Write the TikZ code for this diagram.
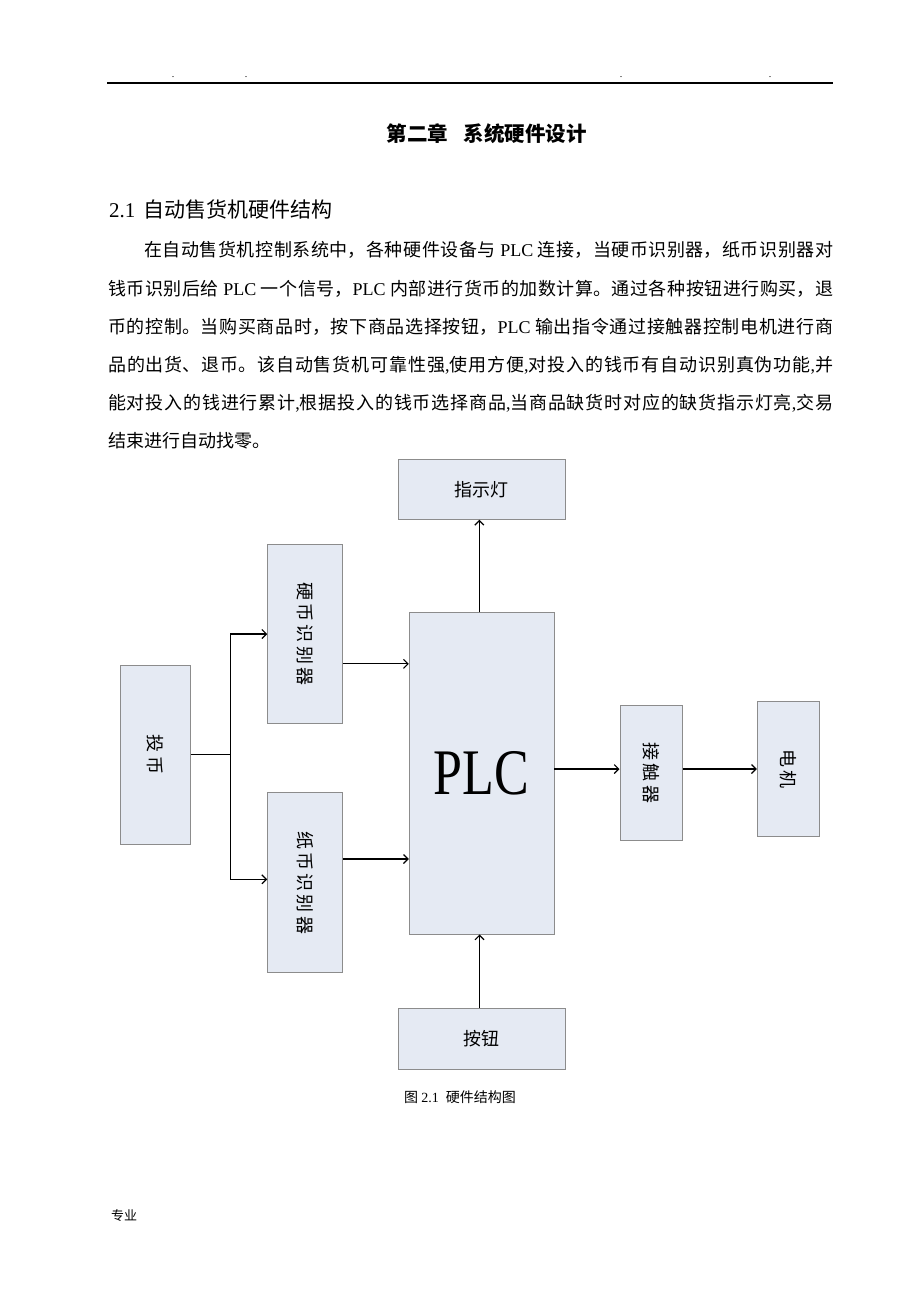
\documentclass[tikz,border=0pt]{standalone}
\usepackage{fontspec}
\usepackage{graphicx}
\setmainfont{Liberation Serif}
\newfontfamily\cjk{Noto Sans CJK SC}
\usetikzlibrary{arrows.meta}
\XeTeXlinebreaklocale "zh"
\XeTeXlinebreakskip=0pt plus 2pt
\definecolor{boxfill}{RGB}{229,234,243}
\definecolor{boxline}{RGB}{140,140,140}
\newcommand\vlabel[1]{\rotatebox{-90}{#1}}
\newcommand\vk{\kern3.2pt}
\begin{document}
\begin{tikzpicture}[x=1pt,y=-1pt,
  box/.style={draw=boxline, line width=0.9pt, fill=boxfill, inner sep=0pt,
    font=\cjk\fontsize{18}{18}\selectfont},
  conn/.style={line width=1.2pt, -{Straight Barb[length=4.5pt,width=9pt,line width=1.2pt]}},
  wire/.style={line width=1.2pt},
  bodyline/.style={anchor=base west, inner sep=0pt, text width=725pt, align=justify,
    font=\cjk\fontsize{18}{18}\selectfont},
  dotmark/.style={inner sep=0pt, font=\fontsize{10}{10}\selectfont}]
\useasboundingbox (0,0) rectangle (920,1302);
\fill[white] (0,0) rectangle (920,1302);

% header
\draw[line width=1.6pt] (107,83) -- (833,83);
\node[dotmark] (d1) at (173,77) {.};
\node[dotmark] (d2) at (246,77) {.};
\node[dotmark] (d3) at (621,77) {.};
\node[dotmark] (d4) at (770,77) {.};

% title
\node[inner sep=0pt, font=\cjk\bfseries\fontsize{20.5}{20.5}\selectfont] (title) at (486.7,134) {第二章\hspace{0.75em}系统硬件设计};

% heading
\node[anchor=base west, inner sep=0pt, font=\fontsize{21}{21}\selectfont] (head) at (109,217.8) {2.1\hspace{0.4em}{\cjk 自动售货机硬件结构}};

% body
\node[bodyline] (l1) at (108,256.8) {\tolerance=10000\parfillskip=0pt\hspace*{2em}在自动售货机控制系统中，各种硬件设备与 {\rmfamily PLC} 连接，当硬币识别器，纸币识别器对\par};
\node[bodyline] (l2) at (108,295.0) {\tolerance=10000\parfillskip=0pt 钱币识别后给 {\rmfamily PLC} 一个信号，{\rmfamily PLC} 内部进行货币的加数计算。通过各种按钮进行购买，退\par};
\node[bodyline] (l3) at (108,333.2) {\tolerance=10000\parfillskip=0pt 币的控制。当购买商品时，按下商品选择按钮，{\rmfamily PLC} 输出指令通过接触器控制电机进行商\par};
\node[bodyline] (l4) at (108,371.4) {\tolerance=10000\parfillskip=0pt 品的出货、退币。该自动售货机可靠性强{\rmfamily,}使用方便{\rmfamily,}对投入的钱币有自动识别真伪功能{\rmfamily,}并\par};
\node[bodyline] (l5) at (108,409.6) {\tolerance=10000\parfillskip=0pt 能对投入的钱进行累计{\rmfamily,}根据投入的钱币选择商品{\rmfamily,}当商品缺货时对应的缺货指示灯亮{\rmfamily,}交易\par};
\node[anchor=base west, inner sep=0pt, font=\cjk\fontsize{18}{18}\selectfont] (l6) at (108,447.8) {结束进行自动找零。};

% boxes
\node[box, minimum width=167.7pt, minimum height=60pt] (zsd) at (481.85,489.3) {指示灯};
\node[box, minimum width=74.6pt, minimum height=179.7pt] (yb) at (305,633.85) {\vlabel{硬\vk 币\vk 识\vk 别\vk 器}};
\node[box, minimum width=69.6pt, minimum height=179pt] (tb) at (155.5,754.5) {\vlabel{投\vk 币}};
\node[box, minimum width=75pt, minimum height=180pt] (zb) at (305.2,882.7) {\vlabel{纸\vk 币\vk 识\vk 别\vk 器}};
\node[box, minimum width=144.7pt, minimum height=321.3pt] (plc) at (481.65,773.35) {\rmfamily\fontsize{65}{65}\selectfont\scalebox{0.8}[1]{PLC}};
\node[box, minimum width=62.3pt, minimum height=135.4pt] (jcq) at (651.15,773) {\vlabel{接\vk 触\vk 器}};
\node[box, minimum width=62pt, minimum height=134.3pt] (dj) at (788.3,768.85) {\vlabel{电\vk 机}};
\node[box, minimum width=167.7pt, minimum height=60.6pt] (an) at (481.85,1039) {按钮};

% connectors
\coordinate (j) at (230.7,754.5);
\coordinate (jt) at (230.7,634);
\coordinate (jb) at (230.7,879.3);
\draw[wire] (tb.east) -- (j);
\draw[conn] (j) -- (jt) -- (jt -| yb.west);
\draw[conn] (j) -- (jb) -- (jb -| zb.west);
\coordinate (a1) at ([yshift=-30pt]yb.east);
\draw[conn] (a1) -- (a1 -| plc.west);
\coordinate (a2) at ([yshift=23.7pt]zb.east);
\draw[conn] (a2) -- (a2 -| plc.west);
\coordinate (a3) at ([xshift=-2.3pt]plc.north);
\draw[conn] (a3) -- (a3 |- zsd.south);
\coordinate (a4) at ([xshift=-2.3pt]an.north);
\draw[conn] (a4) -- (a4 |- plc.south);
\coordinate (a5) at ([yshift=4.3pt]plc.east);
\draw[conn] (a5) -- (a5 -| jcq.west);
\draw[conn] (a5 -| jcq.east) -- (a5 -| dj.west);

% caption and footer
\node[inner sep=0pt, font=\cjk\fontsize{14}{14}\selectfont] (cap) at (460,1097) {图 {\rmfamily 2.1}\hspace{0.5em}硬件结构图};
\node[anchor=base west, inner sep=0pt, font=\cjk\fontsize{13}{13}\selectfont] (foot) at (111,1220) {专业};
\end{tikzpicture}
\end{document}
